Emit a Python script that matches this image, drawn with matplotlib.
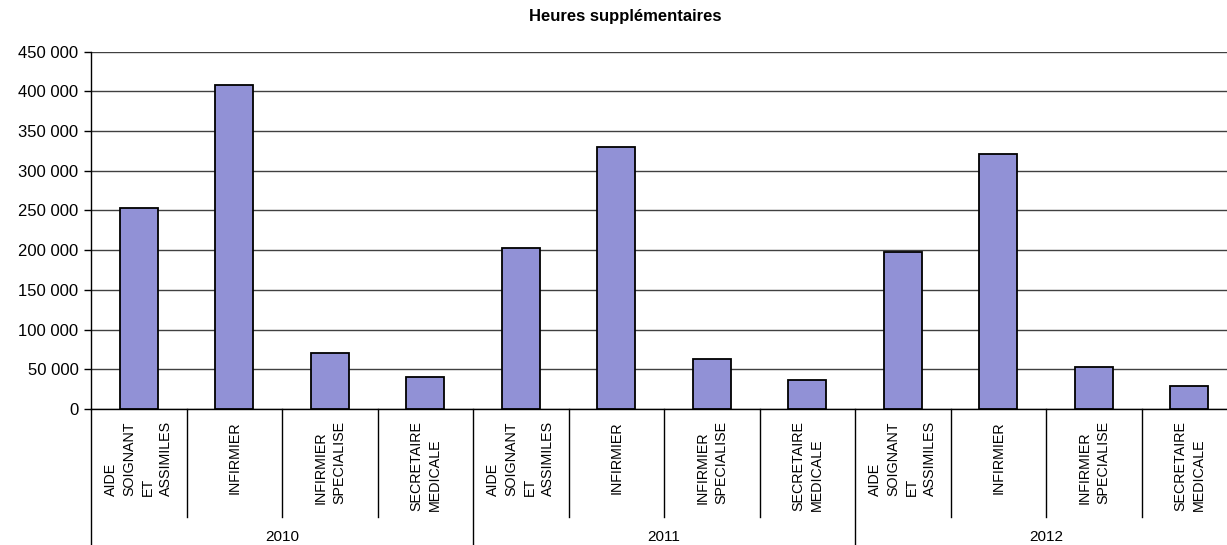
import matplotlib.pyplot as plt
from matplotlib.ticker import FuncFormatter

plt.rcParams['font.family'] = ['Liberation Sans', 'DejaVu Sans']

# data
years = ['2010', '2011', '2012']
categories = ['AIDE\nSOIGNANT\nET\nASSIMILES', 'INFIRMIER',
              'INFIRMIER\nSPECIALISE', 'SECRETAIRE\nMEDICALE']
hours_2010 = [253000, 408000, 70500, 40700]
hours_2011 = [203000, 330000, 62600, 36900]
hours_2012 = [197500, 320500, 53300, 29000]

values = hours_2010 + hours_2011 + hours_2012
labels = categories * len(years)
n = len(values)
x = list(range(n))

fig = plt.figure(figsize=(12.27, 5.45), dpi=100)
ax = fig.add_axes([91 / 1227, 1 - 409 / 545, 1146 / 1227, (409 - 51.6) / 545])

ax.bar(x, values, width=0.4, color='#9191d6', edgecolor='black', linewidth=1.3, zorder=3)

ax.set_xlim(-0.5, n - 0.5)
ax.set_ylim(0, 450000)
ax.set_yticks(range(0, 450001, 50000))
ax.yaxis.set_major_formatter(FuncFormatter(lambda v, p: f'{int(v):,}'.replace(',', ' ')))
ax.tick_params(axis='y', labelsize=12, length=5, width=1, pad=4)
ax.grid(axis='y', color='#404040', linewidth=1, zorder=0)
ax.set_xticks([])
for s in ['top', 'right']:
    ax.spines[s].set_visible(False)
ax.spines['left'].set_linewidth(1)
ax.spines['bottom'].set_linewidth(1)

# hierarchical category axis
tr = ax.get_xaxis_transform()
h = 409 - 51.6
for i, lab in enumerate(labels):
    ax.text(i, -12 / h, lab, transform=tr, rotation=90, ha='center', va='top',
            multialignment='left', fontsize=10.3, linespacing=1.4)
for b in range(n + 1):
    low = -136 / h if b % 4 == 0 else -108 / h
    ax.plot([b - 0.5, b - 0.5], [0, low], transform=tr, color='black',
            linewidth=1, clip_on=False)
for k, yr in enumerate(years):
    ax.text(k * 4 + 1.5, -128 / h, yr, transform=tr, ha='center', va='center', fontsize=11)

fig.text(625 / 1227, 1 - 17 / 545, 'Heures supplémentaires', ha='center', va='center',
         fontsize=12, fontweight='bold')

fig.savefig('out.png', dpi=100)
